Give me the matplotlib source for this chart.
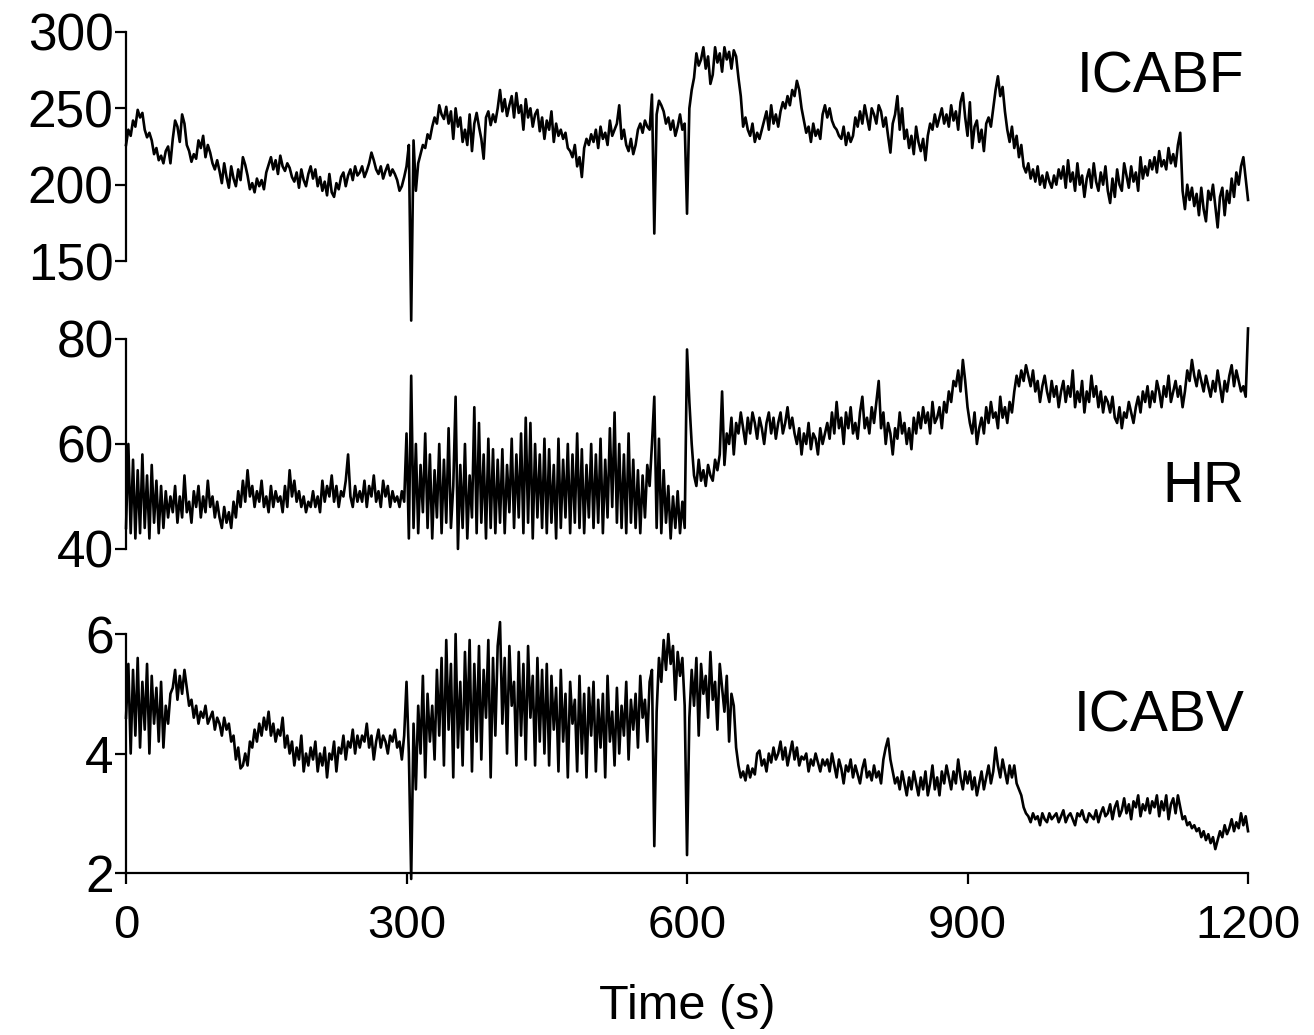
import numpy as np
import matplotlib.pyplot as plt

plt.rcParams['font.family'] = ['Liberation Sans', 'DejaVu Sans']

# time base, 2.5 s steps from 0 to 1200 s
time_s = np.arange(0, 1200.1, 2.5)

icabf = [
    226, 236, 232, 242, 238, 249, 244, 247, 236, 231, 234, 229, 220, 224, 216, 219, 214, 222, 225, 214,
    230, 242, 238, 228, 246, 240, 226, 222, 215, 220, 217, 229, 224, 232, 218, 226, 221, 214, 210, 216,
    209, 201, 214, 205, 198, 212, 204, 199, 210, 203, 218, 213, 206, 197, 201, 195, 204, 199, 203, 197,
    208, 213, 218, 210, 216, 207, 219, 212, 209, 214, 211, 205, 202, 208, 198, 210, 203, 199, 207, 212,
    204, 210, 199, 205, 196, 202, 193, 207, 195, 192, 201, 197, 205, 208, 199, 206, 210, 203, 212, 206,
    208, 212, 205, 209, 214, 221, 216, 210, 207, 212, 204, 209, 213, 206, 210, 207, 203, 196, 199, 205,
    212, 226, 111, 229, 196, 214, 220, 226, 224, 233, 230, 238, 244, 240, 252, 246, 243, 251, 240, 248,
    230, 250, 238, 244, 228, 236, 226, 246, 222, 240, 247, 238, 230, 217, 244, 248, 239, 246, 241, 250,
    262, 248, 256, 245, 252, 258, 244, 260, 247, 252, 236, 256, 244, 250, 238, 246, 249, 235, 244, 230,
    242, 236, 248, 228, 240, 232, 236, 230, 234, 224, 222, 218, 226, 212, 218, 205, 224, 230, 226, 233,
    228, 236, 224, 238, 230, 234, 226, 242, 232, 236, 240, 252, 230, 236, 226, 222, 230, 220, 226, 236,
    240, 234, 242, 238, 236, 259, 168, 246, 255, 252, 248, 240, 244, 236, 242, 232, 238, 246, 236, 240,
    181, 250, 262, 270, 286, 278, 282, 290, 276, 284, 266, 272, 290, 280, 286, 274, 290, 282, 287, 276,
    288, 284, 270, 258, 238, 244, 236, 232, 240, 228, 234, 230, 236, 242, 248, 236, 252, 240, 246, 238,
    248, 254, 250, 258, 252, 262, 258, 268, 262, 250, 242, 234, 238, 228, 240, 232, 236, 230, 246, 252,
    244, 250, 242, 238, 236, 232, 230, 238, 226, 234, 228, 232, 244, 238, 248, 240, 252, 244, 236, 250,
    246, 240, 252, 248, 238, 244, 232, 221, 240, 246, 258, 236, 250, 230, 236, 224, 232, 220, 238, 228,
    222, 230, 216, 232, 240, 236, 246, 238, 244, 250, 240, 246, 238, 252, 242, 248, 236, 254, 260, 244,
    232, 254, 224, 238, 242, 228, 236, 222, 240, 244, 238, 250, 262, 271, 258, 264, 248, 236, 228, 238,
    224, 232, 218, 226, 212, 208, 214, 204, 210, 202, 212, 200, 206, 198, 208, 202, 198, 206, 200, 210,
    204, 212, 198, 216, 202, 208, 196, 214, 200, 206, 192, 204, 210, 198, 214, 202, 196, 208, 200, 212,
    196, 188, 204, 192, 210, 200, 196, 214, 206, 198, 212, 202, 208, 196, 218, 204, 212, 206, 216, 210,
    218, 208, 222, 212, 216, 210, 224, 214, 220, 212, 226, 234, 196, 184, 200, 190, 198, 186, 194, 180,
    198, 184, 176, 196, 190, 200, 186, 172, 192, 198, 180, 196, 188, 204, 192, 208, 200, 212, 218, 204,
    190,
]

hr = [
    44, 60, 43, 57, 42, 55, 43, 58, 44, 54, 42, 56, 45, 53, 43, 52, 44, 51, 46, 50,
    47, 52, 45, 50, 46, 54, 47, 49, 45, 51, 48, 52, 46, 50, 47, 53, 48, 50, 46, 49,
    46, 44, 48, 45, 47, 44, 49, 46, 51, 48, 53, 49, 55, 50, 52, 48, 51, 49, 53, 48,
    50, 47, 52, 48, 51, 49, 50, 47, 52, 48, 55, 50, 53, 49, 51, 48, 50, 47, 49, 48,
    51, 48, 50, 47, 53, 49, 52, 50, 54, 49, 52, 48, 51, 50, 53, 58, 50, 48, 52, 49,
    51, 49, 53, 48, 52, 50, 54, 49, 51, 48, 53, 50, 52, 48, 51, 49, 50, 48, 51, 49,
    62, 42, 73, 44, 60, 43, 56, 47, 62, 44, 58, 42, 55, 46, 60, 43, 57, 45, 63, 44,
    52, 69, 40, 56, 44, 60, 42, 54, 46, 67, 43, 64, 45, 58, 42, 61, 44, 59, 43, 57,
    45, 59, 43, 56, 47, 61, 44, 58, 46, 62, 43, 65, 45, 64, 42, 60, 46, 58, 44, 61,
    43, 59, 45, 56, 42, 61, 44, 57, 46, 60, 43, 58, 45, 62, 44, 59, 43, 56, 46, 60,
    44, 58, 45, 61, 43, 57, 46, 63, 48, 66, 45, 60, 44, 58, 43, 62, 45, 57, 44, 55,
    43, 54, 46, 56, 52, 60, 69, 44, 61, 43, 55, 45, 52, 42, 50, 44, 51, 43, 49, 44,
    78, 68, 60, 54, 52, 57, 53, 55, 52, 56, 54, 53, 57, 55, 58, 70, 56, 62, 60, 65,
    58, 64, 62, 66, 63, 60, 65, 62, 66, 64, 61, 65, 63, 60, 64, 66, 62, 65, 61, 64,
    66, 62, 64, 67, 63, 65, 62, 60, 63, 58, 62, 60, 64, 59, 62, 61, 58, 63, 60, 62,
    64, 61, 66, 62, 68, 63, 65, 60, 66, 63, 67, 62, 64, 61, 66, 69, 63, 65, 62, 67,
    64, 68, 72, 63, 66, 60, 64, 62, 58, 63, 61, 66, 62, 64, 60, 63, 59, 65, 62, 66,
    63, 67, 64, 66, 62, 68, 64, 65, 67, 63, 68, 66, 70, 68, 72, 71, 74, 70, 76, 72,
    67, 64, 62, 66, 60, 63, 65, 62, 67, 64, 68, 65, 66, 63, 69, 65, 67, 64, 68, 66,
    70, 73, 71, 74, 72, 75, 73, 71, 74, 70, 72, 68, 71, 73, 70, 68, 72, 69, 71, 67,
    70, 72, 68, 71, 69, 74, 67, 70, 68, 72, 66, 70, 68, 73, 69, 71, 67, 70, 66, 69,
    68, 66, 69, 65, 64, 67, 63, 66, 65, 68, 66, 64, 67, 69, 66, 70, 68, 71, 67, 70,
    68, 72, 70, 67, 71, 69, 73, 68, 70, 72, 69, 71, 67, 70, 74, 72, 76, 73, 71, 74,
    72, 70, 73, 71, 69, 72, 70, 74, 71, 68, 72, 70, 73, 75, 71, 74, 72, 70, 71, 69,
    82,
]

icabv = [
    4.6, 5.5, 4.0, 5.4, 4.3, 5.6, 4.1, 5.2, 4.4, 5.5, 4.0, 5.3, 4.5, 5.1, 4.2, 5.2, 4.1, 4.8, 4.5, 5.0,
    5.1, 5.4, 4.9, 5.3, 5.0, 5.4, 5.1, 4.8, 4.9, 4.6, 4.8, 4.5, 4.7, 4.6, 4.8, 4.5, 4.6, 4.7, 4.4, 4.6,
    4.5, 4.3, 4.6, 4.4, 4.5, 4.2, 4.3, 3.9, 4.1, 3.75, 3.8, 4.0, 3.8, 4.2, 4.1, 4.4, 4.2, 4.5, 4.3, 4.6,
    4.4, 4.7, 4.3, 4.5, 4.2, 4.4, 4.3, 4.6, 4.1, 4.3, 4.0, 4.2, 3.8, 4.1, 3.9, 4.3, 3.7, 4.0, 3.8, 4.1,
    3.9, 4.2, 3.7, 4.0, 3.8, 4.1, 3.6, 4.0, 3.9, 4.2, 3.7, 4.1, 4.0, 4.3, 3.9, 4.2, 4.1, 4.4, 4.0, 4.3,
    4.1, 4.3, 4.2, 4.5, 4.1, 4.3, 3.9, 4.2, 4.4, 4.1, 4.3, 4.2, 4.0, 4.3, 4.2, 4.4, 4.1, 4.2, 3.9, 4.3,
    5.2, 4.0, 1.9, 4.5, 3.4, 4.8, 4.0, 5.3, 3.6, 5.0, 4.2, 4.8, 3.9, 5.4, 4.3, 5.6, 3.8, 5.9, 4.4, 5.5,
    3.6, 6.0, 4.1, 5.2, 3.8, 5.7, 4.4, 5.9, 3.7, 5.5, 4.2, 5.8, 3.9, 5.4, 4.6, 5.9, 3.6, 5.6, 4.3, 5.8,
    6.2, 4.5, 5.6, 4.0, 5.8, 4.8, 5.2, 3.8, 5.7, 4.3, 5.5, 3.9, 5.8, 4.6, 5.3, 3.8, 5.6, 4.2, 5.4, 4.0,
    5.5, 3.8, 5.3, 4.4, 5.1, 3.7, 5.4, 4.2, 5.0, 3.6, 5.2, 4.5, 4.9, 3.7, 5.3, 4.0, 5.0, 3.6, 5.1, 4.3,
    5.2, 3.7, 4.9, 4.1, 5.0, 3.6, 5.3, 4.2, 4.7, 3.8, 5.1, 4.0, 4.8, 4.3, 5.2, 3.9, 4.9, 4.4, 5.0, 4.1,
    5.3, 4.6, 4.9, 4.2, 5.2, 5.4, 2.45, 4.7, 5.6, 5.2, 5.9, 5.4, 6.0, 5.5, 5.8, 4.9, 5.7, 5.3, 5.6, 4.8,
    2.3, 4.6, 5.4, 4.8, 5.6, 4.3, 5.5, 5.0, 5.3, 4.6, 5.7, 4.9, 5.2, 4.4, 5.5, 5.1, 4.7, 5.3, 4.2, 5.0,
    4.8, 4.1, 3.8, 3.6, 3.7, 3.55, 3.8, 3.6, 3.75, 3.65, 4.0, 4.05, 3.8, 3.9, 3.7, 4.0, 3.85, 4.1, 3.9, 4.0,
    4.2, 3.9, 4.1, 3.8, 4.0, 4.2, 3.9, 4.1, 3.8, 3.95, 3.9, 4.0, 3.7, 3.9, 3.8, 4.0, 3.85, 3.7, 3.9, 3.8,
    3.9, 3.7, 4.0, 3.8, 3.6, 3.9, 3.75, 3.5, 3.8, 3.7, 3.9, 3.6, 3.8, 3.65, 3.5, 3.75, 3.9, 3.6, 3.7, 3.55,
    3.8, 3.6, 3.7, 3.5, 3.9, 4.1, 4.25, 3.9, 3.7, 3.5, 3.6, 3.4, 3.7, 3.5, 3.3, 3.6, 3.4, 3.7, 3.5, 3.3,
    3.6, 3.4, 3.7, 3.3, 3.5, 3.8, 3.4, 3.6, 3.3, 3.7, 3.5, 3.8, 3.6, 3.4, 3.7, 3.5, 3.9, 3.6, 3.4, 3.7,
    3.5, 3.7, 3.4, 3.6, 3.3, 3.5, 3.7, 3.4, 3.6, 3.8, 3.5, 3.7, 4.1, 3.8, 3.6, 3.9, 3.7, 3.5, 3.8, 3.6,
    3.8, 3.5, 3.4, 3.3, 3.1, 3.0, 2.95, 2.85, 3.0, 2.9, 2.95, 2.8, 3.0, 2.9, 2.85, 3.0, 2.9, 2.95, 3.0, 2.85,
    2.95, 3.05, 2.85, 2.95, 3.0, 2.9, 2.8, 3.0, 2.95, 3.05, 2.9, 2.85, 3.0, 2.95, 2.9, 3.05, 2.85, 3.0, 3.1, 2.95,
    3.0, 3.15, 2.9, 3.1, 3.2, 2.95, 3.05, 3.25, 3.0, 3.15, 2.9, 3.2, 3.1, 3.3, 2.95, 3.15, 3.05, 3.25, 3.0, 3.2,
    3.1, 3.3, 2.95, 3.2, 3.05, 3.3, 2.9, 3.15, 3.25, 3.0, 3.3, 3.1, 2.9, 2.95, 2.8, 2.85, 2.75, 2.8, 2.7, 2.75,
    2.6, 2.7, 2.55, 2.65, 2.5, 2.6, 2.4, 2.55, 2.7, 2.6, 2.8, 2.65, 2.75, 2.9, 2.7, 2.85, 2.75, 3.0, 2.8, 2.95,
    2.7,
]

names = ['ICABF', 'HR', 'ICABV']
ylims = [(150, 300), (40, 80), (2, 6)]
yticks = [[150, 200, 250, 300], [40, 60, 80], [2, 4, 6]]
xticks = [0, 300, 600, 900, 1200]
# axes boxes in figure fraction [left, bottom, width, height]
boxes = [[0.0959, 0.7478, 0.8539, 0.2213],
         [0.0959, 0.4696, 0.8539, 0.2029],
         [0.0959, 0.1565, 0.8539, 0.2309]]
label_y = [0.80, 0.295, 0.653]

fig = plt.figure(figsize=(13.14, 10.35), dpi=100)

for i, series in enumerate([icabf, hr, icabv]):
    ax = fig.add_axes(boxes[i])
    ax.plot(time_s, series, color='black', lw=1.9, clip_on=False)
    ax.set_xlim(0, 1200)
    ax.set_ylim(*ylims[i])
    ax.set_yticks(yticks[i])
    ax.spines['top'].set_visible(False)
    ax.spines['right'].set_visible(False)
    ax.spines['left'].set_linewidth(1.6)
    ax.tick_params(axis='both', direction='out', length=8, width=1.6,
                   labelsize=34, pad=2)
    ax.tick_params(axis='y', labelsize=37, pad=1)
    if i < 2:
        ax.spines['bottom'].set_visible(False)
        ax.set_xticks([])
    else:
        ax.spines['bottom'].set_linewidth(1.6)
        ax.set_xticks(xticks)
        ax.tick_params(axis='x', pad=14)
        ax.set_xlabel('Time (s)', fontsize=35, labelpad=26)
    ax.text(0.997, label_y[i], names[i], transform=ax.transAxes,
            ha='right', va='center', fontsize=41)

fig.savefig('out.png', dpi=100)
